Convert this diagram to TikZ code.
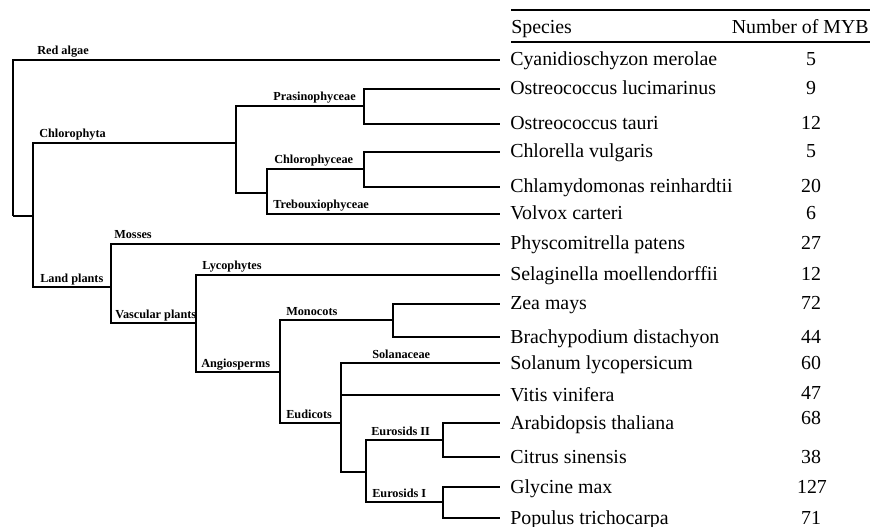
\documentclass[tikz,border=0pt]{standalone}
\usepackage{fontspec}
\setmainfont{Liberation Serif}
\usepackage{tikz}
\usetikzlibrary{positioning}

\begin{document}
\begin{tikzpicture}[
        x=0.75pt, y=-0.75pt,
        branch/.style={
            line width=1.4pt,
            line join=miter
        },
        rule/.style={
            line width=1.4pt
        },
        clade/.style={
            anchor=base west,
            inner sep=0pt,
            font=\fontsize{9.2}{11}\selectfont\bfseries
        },
        species/.style={
            inner sep=0pt,
            text height=12pt,
            text depth=3pt,
            font=\fontsize{14.9}{17}\selectfont
        },
        count/.style={
            species,
            anchor=center
        }
    ]
    \useasboundingbox (0,0) rectangle (874,527);

    % internal branch points
    \coordinate (root)  at (13,216);
    \coordinate (viri)  at (33,216);
    \coordinate (chl)   at (236,143);
    \coordinate (pra)   at (364,106);
    \coordinate (core)  at (267,193);
    \coordinate (chc)   at (364,169);
    \coordinate (land)  at (111,287);
    \coordinate (vasc)  at (196,323);
    \coordinate (angio) at (280,372);
    \coordinate (mono)  at (393,320);
    \coordinate (eudi)  at (341,423);
    \coordinate (ros)   at (366,472);
    \coordinate (eurII) at (443,440);
    \coordinate (eurI)  at (443,502);

    % leaf tips
    \coordinate (cme) at (500,60);
    \coordinate (olu) at (500,89);
    \coordinate (ota) at (500,124);
    \coordinate (cvu) at (500,152);
    \coordinate (cre) at (500,187);
    \coordinate (vca) at (500,214);
    \coordinate (ppa) at (500,244);
    \coordinate (smo) at (500,275);
    \coordinate (zma) at (500,304);
    \coordinate (bdi) at (500,337);
    \coordinate (sly) at (500,363);
    \coordinate (vvi) at (500,395);
    \coordinate (ath) at (500,423);
    \coordinate (csi) at (500,457);
    \coordinate (gma) at (500,487);
    \coordinate (ptr) at (500,518);

    % tree
    \draw[branch] (root) |- (cme);
    \draw[branch] (root) |- (viri);
    \draw[branch] (viri) |- (chl);
    \draw[branch] (viri) |- (land);
    \draw[branch] (chl) |- (pra);
    \draw[branch] (chl) |- (core);
    \draw[branch] (pra) |- (olu);
    \draw[branch] (pra) |- (ota);
    \draw[branch] (core) |- (chc);
    \draw[branch] (core) |- (vca);
    \draw[branch] (chc) |- (cvu);
    \draw[branch] (chc) |- (cre);
    \draw[branch] (land) |- (ppa);
    \draw[branch] (land) |- (vasc);
    \draw[branch] (vasc) |- (smo);
    \draw[branch] (vasc) |- (angio);
    \draw[branch] (angio) |- (mono);
    \draw[branch] (angio) |- (eudi);
    \draw[branch] (mono) |- (zma);
    \draw[branch] (mono) |- (bdi);
    \draw[branch] (eudi) |- (sly);
    \draw[branch] (eudi) |- (vvi);
    \draw[branch] (eudi) |- (ros);
    \draw[branch] (ros) |- (eurII);
    \draw[branch] (ros) |- (eurI);
    \draw[branch] (eurII) |- (ath);
    \draw[branch] (eurII) |- (csi);
    \draw[branch] (eurI) |- (gma);
    \draw[branch] (eurI) |- (ptr);

    % clade names
    \node[clade] (lbRed)   at (37,55)   {Red algae};
    \node[clade] (lbChl)   at (39,138)  {Chlorophyta};
    \node[clade] (lbLand)  at (40,282)  {Land plants};
    \node[clade] (lbPra)   at (273,101) {Prasinophyceae};
    \node[clade] (lbChc)   at (274,164) {Chlorophyceae};
    \node[clade] (lbTre)   at (273,209) {Trebouxiophyceae};
    \node[clade] (lbMoss)  at (114,239) {Mosses};
    \node[clade] (lbVasc)  at (115,318) {Vascular plants};
    \node[clade] (lbLyc)   at (202,270) {Lycophytes};
    \node[clade] (lbAngio) at (201,367) {Angiosperms};
    \node[clade] (lbMono)  at (286,315) {Monocots};
    \node[clade] (lbEudi)  at (286,418) {Eudicots};
    \node[clade] (lbSol)   at (372,358) {Solanaceae};
    \node[clade] (lbEurII) at (371,435) {Eurosids II};
    \node[clade] (lbEurI)  at (372,497) {Eurosids I};

    % table head
    \coordinate (ruleA) at (511,10);
    \coordinate (ruleB) at (870,10);
    \coordinate (ruleC) at (511,42);
    \coordinate (ruleD) at (870,42);
    \draw[rule] (ruleA) -- (ruleB);
    \draw[rule] (ruleC) -- (ruleD);
    \node[species, anchor=west] (hdSpecies) at (511,28) {Species};
    \node[species, anchor=east] (hdCount) at (869,28) {Number of MYB};

    % species
    \node[species, right=7.5pt of cme] (sp-cme) {Cyanidioschyzon merolae};
    \node[species, right=7.5pt of olu] (sp-olu) {Ostreococcus lucimarinus};
    \node[species, right=7.5pt of ota] (sp-ota) {Ostreococcus tauri};
    \node[species, right=7.5pt of cvu] (sp-cvu) {Chlorella vulgaris};
    \node[species, right=7.5pt of cre] (sp-cre) {Chlamydomonas reinhardtii};
    \node[species, right=7.5pt of vca] (sp-vca) {Volvox carteri};
    \node[species, right=7.5pt of ppa] (sp-ppa) {Physcomitrella patens};
    \node[species, right=7.5pt of smo] (sp-smo) {Selaginella moellendorffii};
    \node[species, right=7.5pt of zma] (sp-zma) {Zea mays};
    \node[species, right=7.5pt of bdi] (sp-bdi) {Brachypodium distachyon};
    \node[species, right=7.5pt of sly] (sp-sly) {Solanum lycopersicum};
    \node[species, right=7.5pt of vvi] (sp-vvi) {Vitis vinifera};
    \node[species, right=7.5pt of ath] (sp-ath) {Arabidopsis thaliana};
    \node[species, right=7.5pt of csi] (sp-csi) {Citrus sinensis};
    \node[species, right=7.5pt of gma] (sp-gma) {Glycine max};
    \node[species, right=7.5pt of ptr] (sp-ptr) {Populus trichocarpa};

    % MYB counts
    \node[count] (n-cme) at (811,60)  {5};
    \node[count] (n-olu) at (811,89)  {9};
    \node[count] (n-ota) at (811,124) {12};
    \node[count] (n-cvu) at (811,152) {5};
    \node[count] (n-cre) at (811,187) {20};
    \node[count] (n-vca) at (811,214) {6};
    \node[count] (n-ppa) at (811,244) {27};
    \node[count] (n-smo) at (811,275) {12};
    \node[count] (n-zma) at (811,304) {72};
    \node[count] (n-bdi) at (811,337) {44};
    \node[count] (n-sly) at (811,363) {60};
    \node[count] (n-vvi) at (811,393) {47};
    \node[count] (n-ath) at (811,418) {68};
    \node[count] (n-csi) at (811,457) {38};
    \node[count] (n-gma) at (812,487) {127};
    \node[count] (n-ptr) at (811,518) {71};

    \end{tikzpicture}
\end{document}
